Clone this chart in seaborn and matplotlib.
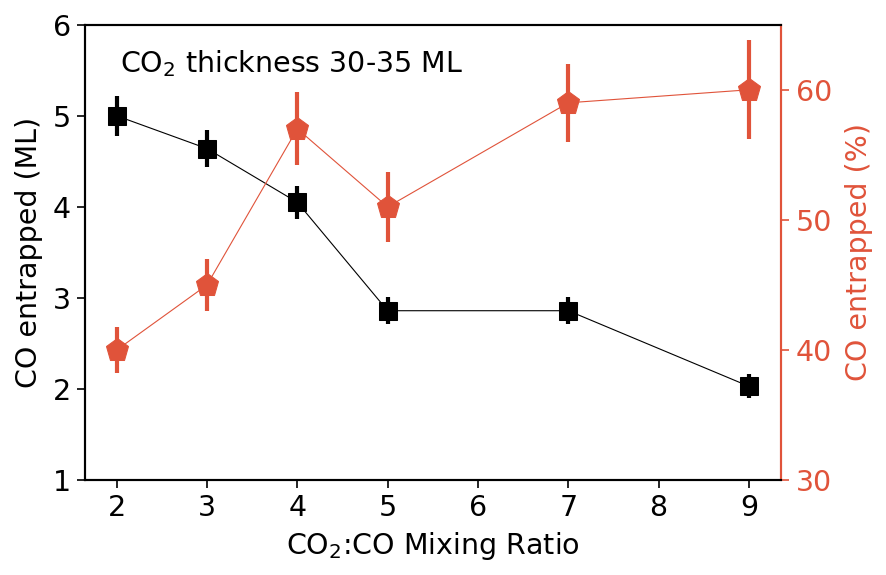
import matplotlib
matplotlib.use("Agg")
import matplotlib.pyplot as plt
import seaborn as sns
import pandas as pd

ratio = [2, 3, 4, 5, 7, 9]
co_ml = [5.0, 4.64, 4.05, 2.86, 2.86, 2.03]
co_ml_err = [0.22, 0.2, 0.18, 0.15, 0.15, 0.13]
co_pct = [40.0, 45.0, 57.0, 51.0, 59.0, 60.0]
co_pct_err = [1.8, 2.0, 2.8, 2.7, 3.0, 3.8]

red = "#e0533a"

sns.set_style("ticks")
plt.rcParams['font.family'] = ['DejaVu Sans']
plt.rcParams.update({"text.color": "black", "axes.labelcolor": "black",
                     "xtick.color": "black", "ytick.color": "black",
                     "axes.edgecolor": "black"})

df = pd.DataFrame({"ratio": ratio, "ml": co_ml, "pct": co_pct})

fig, ax = plt.subplots(figsize=(8.86, 5.75), dpi=100)
fig.subplots_adjust(left=0.096, right=0.881, top=0.957, bottom=0.165)

ax.errorbar(ratio, co_ml, yerr=co_ml_err, fmt="none", ecolor="black", elinewidth=3, zorder=2)
sns.lineplot(data=df, x="ratio", y="ml", ax=ax, color="black", lw=0.8, marker="s",
             markersize=13, markeredgecolor="black", zorder=3)

ax2 = ax.twinx()
ax2.errorbar(ratio, co_pct, yerr=co_pct_err, fmt="none", ecolor=red, elinewidth=3, zorder=2)
sns.lineplot(data=df, x="ratio", y="pct", ax=ax2, color=red, lw=0.8, marker="p",
             markersize=17, markeredgecolor=red, zorder=3)

ax.set_xlim(1.65, 9.35)
ax.set_ylim(1, 6)
ax2.set_ylim(30, 65)
ax.set_xticks([2, 3, 4, 5, 6, 7, 8, 9])
ax.set_yticks([1, 2, 3, 4, 5, 6])
ax2.set_yticks([30, 40, 50, 60])

fs = 20.5
ax.set_xlabel("CO$_2$:CO Mixing Ratio", fontsize=fs, color="black", labelpad=6)
ax.set_ylabel("CO entrapped (ML)", fontsize=fs, color="black", labelpad=7)
ax2.set_ylabel("CO entrapped (%)", fontsize=fs, color=red, labelpad=9)
ax.tick_params(labelsize=fs, width=1.2, length=6, direction="out", colors="black", pad=4)
ax2.tick_params(labelsize=fs, width=1.2, length=6, direction="out", colors=red, pad=5)

for sp in ax.spines.values():
    sp.set_linewidth(1.5)
    sp.set_color("black")
for name, sp in ax2.spines.items():
    sp.set_linewidth(1.5)
    sp.set_color("black")
ax2.spines["right"].set_color(red)
ax.spines["right"].set_color(red)

ax.text(0.05, 0.895, "CO$_2$ thickness 30-35 ML", transform=ax.transAxes, fontsize=fs, color="black")

fig.savefig("out.png", dpi=100)
